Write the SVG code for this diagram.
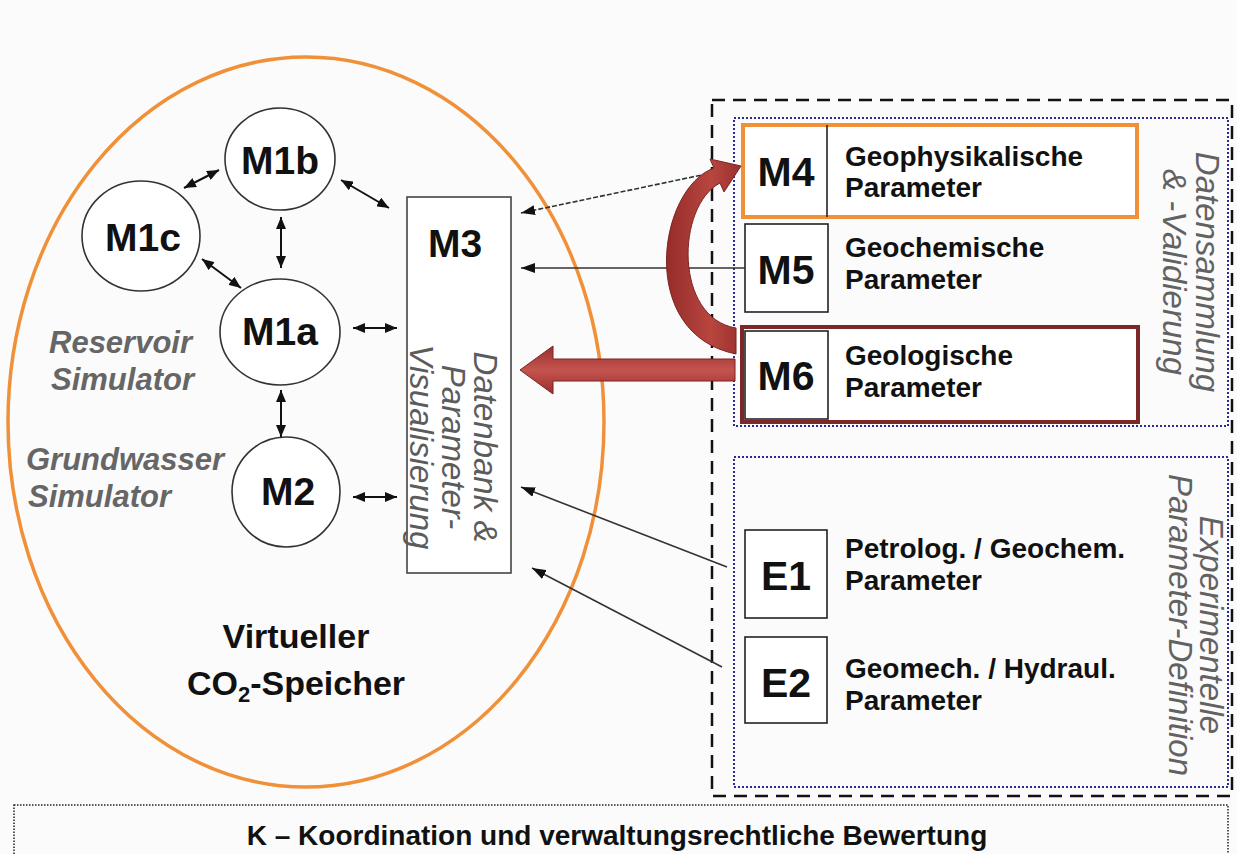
<svg xmlns="http://www.w3.org/2000/svg" width="1237" height="854" viewBox="0 0 1237 854">
<defs>
  <marker id="ah" viewBox="0 0 12 10" refX="12" refY="5" markerWidth="12" markerHeight="10" markerUnits="userSpaceOnUse" orient="auto-start-reverse">
    <path d="M0,0 L12,5 L0,10 z" fill="#111"/>
  </marker>
  <marker id="ahg" viewBox="0 0 14 10" refX="14" refY="5" markerWidth="14" markerHeight="10" markerUnits="userSpaceOnUse" orient="auto">
    <path d="M0,0 L14,5 L0,10 z" fill="#111"/>
  </marker>
  <linearGradient id="redH" x1="0" y1="0" x2="0" y2="1">
    <stop offset="0" stop-color="#9a2e2c"/>
    <stop offset="0.5" stop-color="#c4544f"/>
    <stop offset="1" stop-color="#9a2e2c"/>
  </linearGradient>
  <linearGradient id="redC" x1="0" y1="0" x2="1" y2="0">
    <stop offset="0" stop-color="#962c2a"/>
    <stop offset="0.6" stop-color="#b8463f"/>
    <stop offset="1" stop-color="#9a302d"/>
  </linearGradient>
</defs>
<style>
  .t{font-family:"Liberation Sans",Arial,sans-serif;fill:#111;}
  .big{font-size:39px;font-weight:bold;text-anchor:middle;}
  .box{font-size:41px;font-weight:bold;text-anchor:middle;}
  .par{font-size:28px;font-weight:bold;}
  .side{font-size:31px;font-weight:bold;font-style:italic;fill:#666;}
  .rot{font-size:33px;font-style:italic;fill:#5c5c5c;text-anchor:middle;}
  .rot2{font-size:33px;font-style:italic;fill:#626262;text-anchor:middle;}
  .circ{fill:#fff;stroke:#333;stroke-width:1.6;}
  .sbox{fill:#fff;stroke:#222;stroke-width:1.6;}
  .dbl{stroke:#111;stroke-width:2;fill:none;marker-start:url(#ah);marker-end:url(#ah);}
  .in{stroke:#333;stroke-width:1.6;fill:none;marker-end:url(#ahg);}
</style>
<rect x="0" y="0" width="1237" height="854" fill="#fbfbfb"/>

<g id="virtual-storage">
  <ellipse cx="306" cy="422" rx="298" ry="365" fill="none" stroke="#f0913a" stroke-width="3.5"/>
  <text class="t" x="296" y="648" font-size="34" font-weight="bold" text-anchor="middle">Virtueller</text>
  <text class="t" x="296" y="695" font-size="34" font-weight="bold" text-anchor="middle">CO<tspan font-size="22" dy="7">2</tspan><tspan dy="-7">-Speicher</tspan></text>
  <text class="t side" x="49" y="353">Reservoir</text>
  <text class="t side" x="51" y="390">Simulator</text>
  <text class="t side" x="26" y="470">Grundwasser</text>
  <text class="t side" x="28" y="507">Simulator</text>
</g>

<g id="M1b">
  <ellipse class="circ" cx="280" cy="159" rx="55" ry="51"/>
  <text class="t big" x="280" y="174">M1b</text>
</g>
<g id="M1c">
  <ellipse class="circ" cx="141" cy="236" rx="59" ry="55"/>
  <text class="t big" x="143" y="251">M1c</text>
</g>
<g id="M1a">
  <ellipse class="circ" cx="280" cy="332" rx="60" ry="53"/>
  <text class="t big" x="280" y="345">M1a</text>
</g>
<g id="M2">
  <ellipse class="circ" cx="286" cy="492" rx="54" ry="55"/>
  <text class="t big" x="288" y="505">M2</text>
</g>
<g id="M3">
  <rect x="407" y="197" width="104" height="376" fill="#fff" stroke="#444" stroke-width="1.6"/>
  <text class="t big" x="455" y="257">M3</text>
  <text class="t rot" transform="translate(474,447) rotate(90)"><tspan x="0" dy="0">Datenbank &amp;</tspan><tspan x="0" dy="32">Parameter-</tspan><tspan x="0" dy="32">Visualisierung</tspan></text>
</g>

<g id="group-datensammlung">
  <rect x="712" y="100" width="520" height="696" fill="none" stroke="#111" stroke-width="2.5" stroke-dasharray="13 8"/>
  <rect x="734" y="118" width="494" height="308" fill="none" stroke="#2b2b8f" stroke-width="2" stroke-dasharray="2 2"/>
  <text class="t rot2" transform="translate(1196,272) rotate(90)"><tspan x="0" dy="0">Datensammlung</tspan><tspan x="0" dy="33">&amp; -Validierung</tspan></text>
</g>
<g id="group-experimentelle">
  <rect x="734" y="457" width="494" height="330" fill="none" stroke="#2b2b8f" stroke-width="2" stroke-dasharray="2 2"/>
  <text class="t rot2" transform="translate(1200,625) rotate(90)"><tspan x="0" dy="0">Experimentelle</tspan><tspan x="0" dy="31">Parameter-Definition</tspan></text>
</g>

<g id="M4">
  <rect x="743" y="125" width="394" height="92" fill="#fff" stroke="#f0913a" stroke-width="4"/>
  <line x1="827" y1="125" x2="827" y2="217" stroke="#222" stroke-width="1.6"/>
  <text class="t box" x="786" y="186">M4</text>
  <text class="t par" x="845" y="166">Geophysikalische</text>
  <text class="t par" x="845" y="197">Parameter</text>
</g>
<g id="M5">
  <rect class="sbox" x="745" y="224" width="83" height="88"/>
  <text class="t box" x="786" y="284">M5</text>
  <text class="t par" x="845" y="257">Geochemische</text>
  <text class="t par" x="845" y="289">Parameter</text>
</g>
<g id="M6">
  <rect x="742" y="327" width="396" height="95" fill="#fff" stroke="#7d2828" stroke-width="4"/>
  <rect class="sbox" x="745" y="331" width="83" height="88"/>
  <text class="t box" x="786" y="390">M6</text>
  <text class="t par" x="845" y="365">Geologische</text>
  <text class="t par" x="845" y="397">Parameter</text>
</g>
<g id="E1">
  <rect class="sbox" x="745" y="530" width="82" height="88"/>
  <text class="t box" x="786" y="590">E1</text>
  <text class="t par" x="845" y="558">Petrolog. / Geochem.</text>
  <text class="t par" x="845" y="590">Parameter</text>
</g>
<g id="E2">
  <rect class="sbox" x="745" y="637" width="82" height="86"/>
  <text class="t box" x="786" y="697">E2</text>
  <text class="t par" x="845" y="678">Geomech. / Hydraul.</text>
  <text class="t par" x="845" y="710">Parameter</text>
</g>

<g id="K">
  <rect x="14" y="805" width="1214" height="60" fill="none" stroke="#222" stroke-width="1.5" stroke-dasharray="1.5 1.5"/>
  <text class="t" x="617" y="845" font-size="28" font-weight="bold" text-anchor="middle">K – Koordination und verwaltungsrechtliche Bewertung</text>
</g>

<g id="connectors">
  <line class="dbl" x1="184" y1="188" x2="219" y2="170"/>
  <line class="dbl" x1="341" y1="180" x2="389" y2="208"/>
  <line class="dbl" x1="281" y1="217" x2="281" y2="268"/>
  <line class="dbl" x1="202" y1="259" x2="241" y2="288"/>
  <line class="dbl" x1="353" y1="328" x2="397" y2="328"/>
  <line class="dbl" x1="281" y1="390" x2="281" y2="437"/>
  <line class="dbl" x1="353" y1="497" x2="397" y2="497"/>
  <line class="in" x1="735" y1="168" x2="521" y2="213" stroke-dasharray="5 2"/>
  <line class="in" x1="745" y1="268" x2="521" y2="268" stroke="#555"/>
  <line class="in" x1="727" y1="567" x2="521" y2="487"/>
  <line class="in" x1="722" y1="667" x2="532" y2="568"/>
  <path d="M520,370 L553,346 L553,359 L735,359 L735,381 L553,381 L553,394 Z" fill="url(#redH)" stroke="#7d2323" stroke-width="1"/>
  <path d="M714,168 C658,188 636,334 736,354 L736,328 C674,318 676,206 720,183 L724,192 L741,166 L710,159 Z" fill="url(#redC)" stroke="#7d2323" stroke-width="1"/>
</g>
</svg>
